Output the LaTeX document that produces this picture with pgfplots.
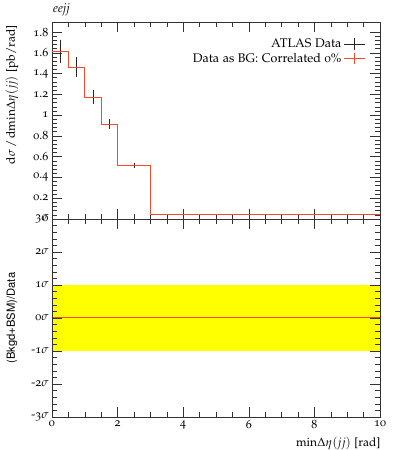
\documentclass[border=0pt]{standalone}
\usepackage[T1]{fontenc}
\usepackage[osf]{mathpazo}
\usepackage{helvet}
\usepackage{pgfplots}
\pgfplotsset{compat=1.18}
\definecolor{rivetred}{RGB}{245,75,45}
\definecolor{bandyellow}{RGB}{255,255,0}
\newcommand\tf{\fontsize{12}{14}\selectfont}
\begin{document}
\begin{tikzpicture}
\pgfplotsset{
  rivet/.style={
    scale only axis, width=328pt,
    xmin=0, xmax=10,
    axis line style={line width=0.6pt, black!80},
    tick style={line width=0.5pt, black!80},
    major tick length=10pt, minor tick length=5pt,
    tick align=inside, xtick pos=both, ytick pos=both,
    xtick={0,2,4,6,8,10},
    minor x tick num=3,
    /pgf/number format/assume math mode=true,
  }
}
\begin{axis}[rivet, name=top,
  height=197pt,
  ymin=0, ymax=1.896,
  ytick={0,0.2,0.4,0.6,0.8,1,1.2,1.4,1.6,1.8},
  yticklabels={\tf 0,\tf 0.2,\tf 0.4,\tf 0.6,\tf 0.8,\tf 1,\tf 1.2,\tf 1.4,\tf 1.6,\tf 1.8},
  minor y tick num=4,
  xticklabels={},
  ylabel={d$\sigma$\,/\,dmin$\Delta\eta(jj)$ [pb/rad]},
  ylabel style={at={(axis description cs:-0.122,1)}, anchor=east, font=\fontsize{12}{14}\selectfont},
  legend style={draw=none, fill=none, at={(axis description cs:0.96,0.93)}, anchor=north east,
    font=\fontsize{12.5}{15}\selectfont, row sep=0pt, inner sep=1pt},
  legend cell align=right,
  legend plot pos=right,
  legend image code/.code={
    \draw[#1] (0cm,0cm) -- (0.75cm,0cm);
    \draw[#1] (0.375cm,-0.2cm) -- (0.375cm,0.2cm);
  },
]
\addplot[black!85, line width=0.8pt, only marks, mark options={draw=none, fill=none}, mark size=0pt, forget plot,
  error bars/.cd, y dir=both, y explicit, x dir=both, x explicit,
  error bar style={black!85, line width=0.8pt}, error mark=none]
  coordinates {
    (0.25,1.615) +- (0.25,0.11)
    (0.75,1.462) +- (0.25,0.095)
    (1.25,1.172) +- (0.25,0.07)
    (1.75,0.912) +- (0.25,0.05)
    (2.5,0.515) +- (0.5,0.025)
    (6.5,0.04) +- (3.5,0.003)
  };
\addplot[rivetred, line width=1pt, const plot mark left, forget plot]
  coordinates {(0,1.615) (0.5,1.462) (1,1.172) (1.5,0.912) (2,0.515) (3,0.04) (10,0.04)};
\addlegendimage{black!85, line width=0.8pt}
\addlegendentry{ATLAS Data}
\addlegendimage{rivetred, line width=1pt}
\addlegendentry{Data as BG: Correlated 0\%}
\end{axis}
\node[anchor=base west, font=\itshape\fontsize{12.5}{15}\selectfont, inner sep=0pt] at ([xshift=1pt,yshift=9pt]top.north west) {eejj};
\begin{axis}[rivet, at={(top.south west)}, anchor=north west,
  height=198pt,
  ymin=-3, ymax=3,
  ytick={-3,-2,-1,0,1,2,3},
  yticklabels={\tf -3$\sigma$,\tf -2$\sigma$,\tf -1$\sigma$,\tf 0$\sigma$,\tf 1$\sigma$,\tf 2$\sigma$,\tf 3$\sigma$},
  minor y tick num=4,
  xticklabels={\tf 0,\tf 2,\tf 4,\tf 6,\tf 8,\tf 10},
  xlabel={min$\Delta\eta(jj)$ [rad]},
  xlabel style={at={(axis description cs:1,0)}, anchor=base east, xshift=4pt, yshift=-30pt, font=\fontsize{12}{14}\selectfont},
  ylabel={(Bkgd+BSM)/Data},
  ylabel style={at={(axis description cs:-0.122,0.5)}, anchor=center, font=\sffamily\fontsize{11.2}{13}\selectfont},
  axis on top,
]
\addplot[draw=none, fill=bandyellow] coordinates {(0,-1) (10,-1) (10,1) (0,1)} -- cycle;
\addplot[rivetred, line width=1pt] coordinates {(0,0) (10,0)};
\end{axis}
\pgfresetboundingbox
\path[use as bounding box] ([xshift=-52pt,yshift=22pt]top.north west) rectangle ([xshift=340pt,yshift=-428pt]top.north west);
\end{tikzpicture}
\end{document}
